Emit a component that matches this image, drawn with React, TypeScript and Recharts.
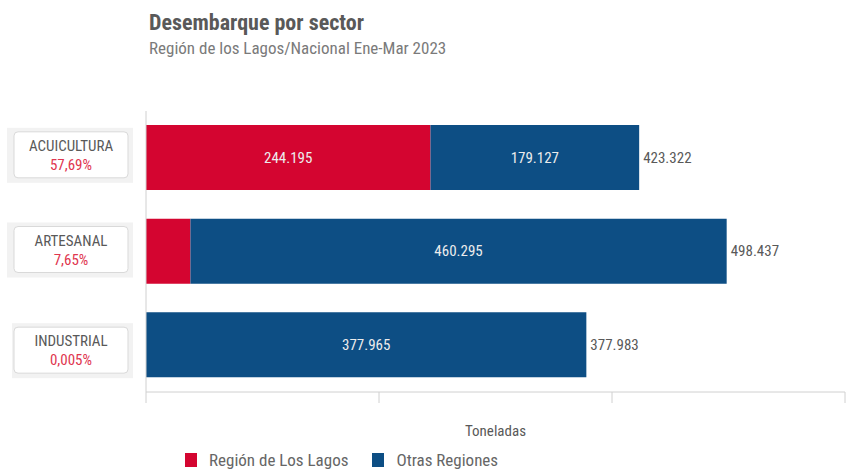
import { BarChart, Bar, XAxis, YAxis, LabelList, Legend } from "recharts";

const sectors = ["ACUICULTURA", "ARTESANAL", "INDUSTRIAL"];
const lagos = [244195, 38142, 18];
const otras = [179127, 460295, 377965];
const shares = ["57,69%", "7,65%", "0,005%"];
const xTicks = [0, 200000, 400000, 600000];

const RED = "#d40530";
const BLUE = "#0d4e84";
const FONT = "'Liberation Sans Narrow', 'Roboto Condensed', 'DejaVu Sans Condensed', Roboto, sans-serif";

const data = sectors.map((name, i) => ({
  name,
  lagos: lagos[i],
  otras: otras[i],
  total: lagos[i] + otras[i],
  share: shares[i],
}));

const fmt = (v: number) => String(v).replace(/\B(?=(\d{3})+(?!\d))/g, ".");

// small nudges so the boxes sit like in the original
const boxShift = [-3, -2, 5];

function SectorTick(props: any) {
  const { y, payload, index } = props;
  const cy = y + boxShift[index];
  return (
    <g>
      <rect x={index === 2 ? 12 : 7} y={cy - 27} width={index === 2 ? 121 : 126} height={55} fill="#f2f2f2" />
      <rect x={14} y={cy - 23} width={114} height={46} rx={4} fill="#fff" stroke="#d9d9d9" />
      <text x={71} y={cy - 4} textAnchor="middle" fontSize={15} fill="#595959" fontFamily={FONT}>
        {payload.value}
      </text>
      <text x={71} y={cy + 15} textAnchor="middle" fontSize={15} fill="#e0364f" fontFamily={FONT}>
        {data[index].share}
      </text>
    </g>
  );
}

function InsideLabel(props: any) {
  const { x, y, width, height, value } = props;
  if (width < 60) return null;
  return (
    <text
      x={x + width / 2}
      y={y + height / 2}
      dy={5}
      textAnchor="middle"
      fontSize={15}
      fill="#ececec"
      fontFamily={FONT}
    >
      {fmt(value)}
    </text>
  );
}

function TotalLabel(props: any) {
  const { x, y, width, height, index } = props;
  return (
    <text x={x + width + 4} y={y + height / 2} dy={5} fontSize={15} fill="#595959" fontFamily={FONT}>
      {fmt(data[index].total)}
    </text>
  );
}

function LegendBox() {
  const items = [
    { label: "Región de Los Lagos", color: RED },
    { label: "Otras Regiones", color: BLUE },
  ];
  return (
    <div style={{ display: "flex", paddingLeft: 185, gap: 24, fontFamily: FONT, fontSize: 17, lineHeight: "18px", color: "#666" }}>
      {items.map((it) => (
        <div key={it.label} style={{ display: "flex", alignItems: "center" }}>
          <span style={{ width: 12, height: 14, background: it.color, marginRight: 12, display: "inline-block" }} />
          {it.label}
        </div>
      ))}
    </div>
  );
}

export default function App() {
  return (
    <div style={{ position: "absolute", left: 0, top: 0, width: 848, height: 470, background: "#fff", overflow: "hidden" }}>
      <div style={{ position: "absolute", left: 149, top: 10, fontFamily: FONT, fontWeight: 700, fontSize: 22, color: "#595959" }}>
        Desembarque por sector
      </div>
      <div style={{ position: "absolute", left: 149, top: 38, fontFamily: FONT, fontSize: 17, color: "#7a7a7a" }}>
        Región de los Lagos/Nacional Ene-Mar 2023
      </div>
      <BarChart
        width={848}
        height={470}
        data={data}
        layout="vertical"
        margin={{ top: 111, right: 3, bottom: 48, left: 0 }}
      >
        <XAxis
          type="number"
          domain={[0, 600000]}
          ticks={xTicks}
          tickFormatter={() => ""}
          axisLine={{ stroke: "#d0d0d0" }}
          tickLine={{ stroke: "#d0d0d0" }}
          tickSize={11}
          height={30}
          label={{ value: "Toneladas", position: "bottom", offset: 3, fontSize: 15, fill: "#595959", fontFamily: FONT }}
        />
        <YAxis
          type="category"
          dataKey="name"
          width={146}
          axisLine={{ stroke: "#d0d0d0" }}
          tickLine={false}
          tick={<SectorTick />}
        />
        <Bar dataKey="lagos" stackId="a" fill={RED} barSize={65} isAnimationActive={false}>
          <LabelList dataKey="lagos" content={<InsideLabel />} />
        </Bar>
        <Bar dataKey="otras" stackId="a" fill={BLUE} barSize={65} isAnimationActive={false}>
          <LabelList dataKey="otras" content={<InsideLabel />} />
          <LabelList dataKey="total" content={<TotalLabel />} />
        </Bar>
        <Legend
          layout="horizontal"
          verticalAlign="middle"
          align="center"
          content={<LegendBox />}
          wrapperStyle={{ top: 451, left: 0, width: 848 }}
        />
      </BarChart>
    </div>
  );
}
